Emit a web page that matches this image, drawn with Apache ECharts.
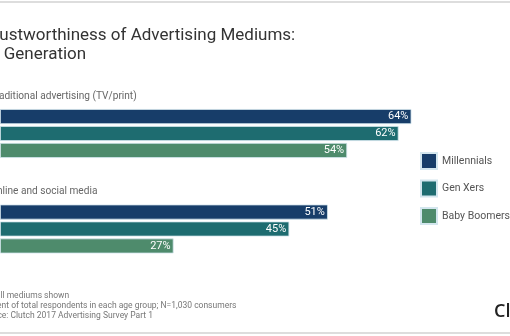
<!DOCTYPE html>
<html>
<head>
<meta charset="utf-8">
<script src="https://cdn.jsdelivr.net/npm/echarts@6/dist/echarts.min.js"></script>
<style>
  html, body { margin: 0; padding: 0; background: #fff; }
  #chart { width: 510px; height: 336px; }
</style>
</head>
<body>
<div id="chart"></div>
<script>
// Share of respondents who trust each medium, by generation (%)
const categories = ['Traditional advertising (TV/print)', 'Online and social media'];
const seriesNames = ['Millennials', 'Gen Xers', 'Baby Boomers+'];
const millennials = [64, 51];
const genXers = [62, 45];
const babyBoomers = [54, 27];

const titleLines = ['Trustworthiness of Advertising Mediums:', 'by Generation'];
const notes = [
  'Not all mediums shown',
  'Percent of total respondents in each age group; N=1,030 consumers',
  'Source: Clutch 2017 Advertising Survey Part 1'
];
const brand = 'Clutch';

const colors = ['#173d69', '#1e6c70', '#4e8b6c'];

const chart = echarts.init(document.getElementById('chart'), null, { renderer: 'canvas' });

function barSeries(name, values, color) {
  return {
    name: name,
    type: 'bar',
    data: values,
    barWidth: 15,
    barGap: '13%',
    itemStyle: { color: color, borderColor: '#d3e6ee', borderWidth: 0.8 },
    label: {
      show: true,
      position: 'insideRight',
      distance: 3,
      formatter: '{c}%',
      color: '#ffffff',
      fontFamily: 'Roboto',
      fontSize: 11
    }
  };
}

const titleStyle = {
  fontFamily: 'Roboto',
  fontSize: 17,
  fontWeight: 'normal',
  color: '#333333'
};

const staticGraphics = [
  { type: 'rect', shape: { x: 0, y: 1, width: 510, height: 2 }, style: { fill: '#dddddd' }, silent: true },
  { type: 'rect', shape: { x: 0, y: 332, width: 510, height: 2 }, style: { fill: '#dddddd' }, silent: true },
  {
    type: 'text', left: -20, top: 291,
    style: {
      text: notes.join('\n'),
      font: '8.5px Roboto',
      lineHeight: 10,
      fill: '#777777'
    }
  },
  {
    type: 'text', left: 494, top: 303,
    style: { text: brand, font: '600 18px "Open Sans"', fill: '#222222' }
  }
];

chart.setOption({
  animation: false,
  backgroundColor: '#ffffff',
  title: [
    { text: titleLines[0], left: -21, top: 22, textStyle: titleStyle },
    { text: titleLines[1], left: -23, top: 41.5, textStyle: titleStyle }
  ],
  legend: {
    data: seriesNames,
    orient: 'vertical',
    left: 415,
    top: 147,
    icon: 'rect',
    itemWidth: 16,
    itemHeight: 16,
    itemGap: 9.5,
    textStyle: { fontFamily: 'Roboto', fontSize: 10.5, color: '#555555' }
  },
  grid: { left: -19, width: 469, top: 85.75, height: 191 },
  xAxis: {
    type: 'value',
    min: 0,
    max: 70,
    show: false
  },
  yAxis: {
    type: 'category',
    data: categories,
    inverse: true,
    axisLine: { show: false },
    axisTick: { show: false },
    axisLabel: { show: false }
  },
  series: [
    barSeries(seriesNames[0], millennials, colors[0]),
    barSeries(seriesNames[1], genXers, colors[1]),
    barSeries(seriesNames[2], babyBoomers, colors[2])
  ],
  graphic: staticGraphics
});

// Group headings sit above each category's bars, positioned from the category axis
const headings = categories.map(function (name) {
  const y = chart.convertToPixel({ yAxisIndex: 0 }, name);
  return {
    type: 'text',
    x: -10,
    y: y - 37.5,
    scaleX: 0.92,
    style: {
      text: name,
      font: '11px Roboto',
      fill: '#666666',
      verticalAlign: 'middle',
      align: 'left'
    }
  };
});
chart.setOption({ graphic: staticGraphics.concat(headings) }, { replaceMerge: ['graphic'] });
</script>
</body>
</html>
